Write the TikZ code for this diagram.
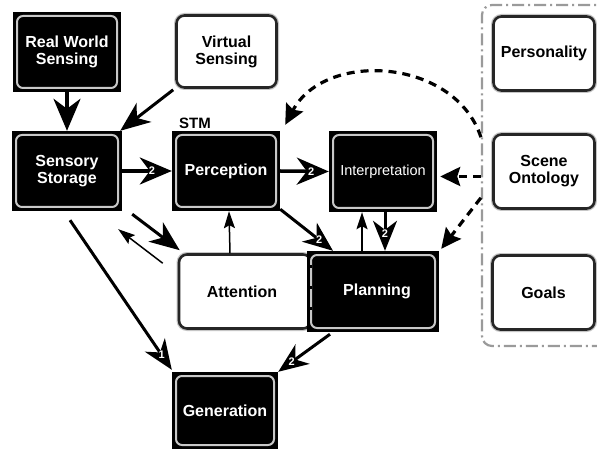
\documentclass[tikz,border=0pt]{standalone}
\usepackage{fontspec}
\setmainfont{Liberation Sans}
\usetikzlibrary{arrows.meta,calc}

\definecolor{rimgray}{HTML}{C8C8C8}
\definecolor{ctxgray}{HTML}{9A9A9A}

\tikzset{
  boxfont/.style={font=\bfseries\fontsize{16}{17}\selectfont},
  darkbox/.style={rectangle, fill=black, text=white, inner sep=0pt, align=center, boxfont,
    path picture={\draw[rimgray, line width=2pt, rounded corners=6pt]
      ([shift={(4pt,4pt)}]path picture bounding box.south west) rectangle
      ([shift={(-4pt,-4pt)}]path picture bounding box.north east);}},
  lightbox/.style={rectangle, rounded corners=8pt, fill=white, draw=black!85, line width=2.6pt,
    inner sep=0pt, align=center, boxfont, preaction={draw=gray!45, line width=5pt}},
  ctxframe/.style={rectangle, rounded corners=10pt, draw=ctxgray, line width=2.2pt,
    dash pattern=on 12pt off 4pt on 2pt off 4pt, minimum width=140pt, minimum height=341pt},
  bigarrow/.style={line width=3.5pt, -{Stealth[length=32pt, width=27pt, inset=10pt]}},
  midarrow/.style={line width=3pt, -{Stealth[length=30pt, width=24pt, inset=9pt]}},
  thinarrow/.style={line width=1.5pt, -{Stealth[length=17pt, width=11pt, inset=3pt]}},
  dasharrow/.style={line width=3.2pt, dash pattern=on 8pt off 6pt,
    -{Stealth[length=20pt, width=19pt, inset=3pt]}},
  num/.style={text=white, font=\bfseries\fontsize{11}{11}\selectfont, inner sep=0pt},
}

\begin{document}
\begin{tikzpicture}[x=1pt, y=-1pt]
\useasboundingbox (0,0) rectangle (597,449);
\fill[white] (0,0) rectangle (597,449);

% context group on the right
\node[ctxframe] (ctx) at (552,175.5) {};

% boxes
\node[darkbox, minimum width=108pt, minimum height=80pt] (rws) at (67,52) {Real World\\Sensing};
\node[lightbox, minimum width=100pt, minimum height=72pt] (vs) at (226.5,51.5) {Virtual\\Sensing};
\node[darkbox, minimum width=110pt, minimum height=80pt] (ss) at (67,171) {Sensory\\Storage};
\node[darkbox, minimum width=108pt, minimum height=80pt] (perc) at (226,171) {Perception};
\node[font=\bfseries\fontsize{15}{15}\selectfont, inner sep=0pt] (stm) at (195,123.5) {STM};
\node[darkbox, minimum width=108pt, minimum height=81pt, font=\fontsize{14.5}{15}\selectfont] (interp) at (383,171.5) {Interpretation};
\node[lightbox, minimum width=101pt, minimum height=74pt] (pers) at (544,53.5) {Personality};
\node[lightbox, minimum width=101pt, minimum height=74pt] (scene) at (544,171.5) {Scene\\Ontology};
\node[lightbox, minimum width=102pt, minimum height=74pt] (goals) at (543.5,292.5) {Goals};
\node[lightbox, minimum width=132pt, minimum height=74pt] (att) at (245,291.5) {Attention\hspace*{6pt}};
\node[darkbox, minimum width=132pt, minimum height=81pt] (plan) at (373,291.5) {\hspace*{8pt}Planning};
% broken rim on the shared edge of Attention/Planning
\draw[black, line width=3pt, dash pattern=on 3pt off 18pt, dash phase=-14pt]
  ([shift={(4,0)}]plan.north west) -- ([shift={(4,0)}]plan.south west);
\node[darkbox, minimum width=106pt, minimum height=77pt] (gen) at (225,410.5) {Generation};

% solid connectors
\draw[bigarrow] (rws.south) -- (ss.north);
\draw[midarrow] ([shift={(-2,1)}]vs.south west) -- ([shift={(-2,0)}]ss.north east);
\draw[bigarrow] (ss.east) -- node[num, pos=0.6] {2} (perc.west);
\draw[bigarrow] (perc.east) -- node[num, pos=0.64] {2} (interp.west);
\draw[midarrow] ([shift={(0,-2)}]perc.south east) -- node[num, pos=0.74] {2} ([shift={(-40,0)}]plan.north);
\draw[midarrow] ([xshift=2pt]interp.south) -- node[num, pos=0.55] {2} ([xshift=12pt]plan.north);
\draw[thinarrow] ([xshift=-11pt]plan.north) -- ([xshift=-21pt]interp.south);
\draw[thinarrow] ([xshift=-15pt]att.north) -- ([xshift=3pt]perc.south);
\draw[midarrow] ([shift={(10,3)}]ss.south east) -- ([shift={(2,-3)}]att.north west);
\draw[thinarrow] ([shift={(-15,10)}]att.north west) -- ([shift={(-4,18)}]ss.south east);
\draw[midarrow] ([shift={(3,9)}]ss.south) -- node[num, pos=0.9] {1} ([shift={(0,-2)}]gen.north west);
\draw[midarrow] ([shift={(-43,2)}]plan.south) -- node[num, pos=0.74] {2} (gen.north east);

% dashed influences from the context group
\draw[dasharrow] ($(ctx.west |- interp.east)+(0,5)$) -- ([shift={(3,5)}]interp.east);
\draw[dasharrow] ($(ctx.west |- scene.north)+(0,4)$) .. controls (455,58) and (325,50) .. ([shift={(5,-6)}]perc.north east);
\draw[dasharrow] ($(ctx.west |- scene.south)+(0,-12)$) -- ([shift={(2,-2)}]plan.north east);
\end{tikzpicture}
\end{document}
